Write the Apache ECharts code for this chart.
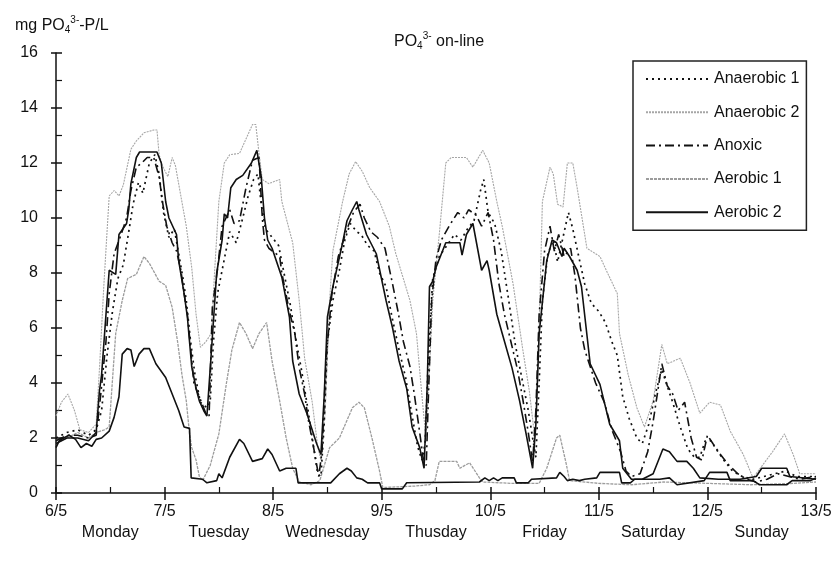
<!DOCTYPE html>
<html>
<head>
<meta charset="utf-8">
<script src="https://cdn.jsdelivr.net/npm/echarts@6/dist/echarts.min.js"></script>
<style>html,body{margin:0;padding:0;background:#fff}#c{width:836px;height:562px}</style>
</head>
<body>
<div id="c"></div>
<script>
// x = days since 6/5 00:00, y = mg PO4-P/L
const dateLabels = ['6/5','7/5','8/5','9/5','10/5','11/5','12/5','13/5'];
const dayNames = ['Monday','Tuesday','Wednesday','Thusday','Friday','Saturday','Sunday'];
const yTicks = [0,2,4,6,8,10,12,14,16];

const anaerobic2 = [[0,2.8],[0.05,3.3],[0.11,3.6],[0.17,3.0],[0.22,2.3],[0.3,2.2],[0.37,2.5],[0.4,4.5],[0.44,7.5],[0.47,9.5],[0.49,10.8],[0.535,11.0],[0.58,10.8],[0.62,11.2],[0.69,12.5],[0.74,12.8],[0.81,13.1],[0.9,13.2],[0.93,13.2],[0.95,12.3],[0.98,11.9],[1.03,11.5],[1.07,12.2],[1.1,11.9],[1.2,9.7],[1.25,8.2],[1.29,6.5],[1.33,5.3],[1.38,5.5],[1.43,5.8],[1.46,8.0],[1.5,10.6],[1.55,12.0],[1.6,12.3],[1.69,12.35],[1.73,12.7],[1.81,13.4],[1.84,13.4],[1.87,12.35],[1.9,11.4],[1.96,11.25],[2.06,11.4],[2.08,10.6],[2.18,9.1],[2.24,7.0],[2.29,4.9],[2.36,3.3],[2.41,1.7],[2.44,1.2],[2.48,3.0],[2.52,7.0],[2.55,8.8],[2.64,10.6],[2.7,11.6],[2.76,12.05],[2.82,11.7],[2.89,11.1],[2.98,10.6],[3.07,9.7],[3.13,8.7],[3.26,7.0],[3.32,5.8],[3.36,4.0],[3.39,2.7],[3.41,2.1],[3.44,4.5],[3.47,7.0],[3.53,9.4],[3.59,12.0],[3.64,12.2],[3.78,12.2],[3.84,11.85],[3.93,12.46],[3.99,12.0],[4.06,10.6],[4.11,9.7],[4.21,7.6],[4.3,5.2],[4.36,3.7],[4.41,2.0],[4.43,3.5],[4.46,7.5],[4.48,10.6],[4.55,11.85],[4.58,11.6],[4.62,10.5],[4.67,10.4],[4.71,12.0],[4.76,12.0],[4.8,11.1],[4.89,8.9],[5.01,8.6],[5.08,8.0],[5.17,7.25],[5.19,5.8],[5.27,4.3],[5.35,3.1],[5.42,2.4],[5.5,3.35],[5.58,5.4],[5.63,4.7],[5.75,4.9],[5.84,4.0],[5.93,2.9],[6.02,3.3],[6.12,3.2],[6.21,2.25],[6.33,1.4],[6.42,0.55],[6.6,1.5],[6.71,2.15],[6.79,1.4],[6.85,0.7],[7.0,0.7]];

const aerobic1 = [[0,1.8],[0.1,2.0],[0.2,2.2],[0.3,2.0],[0.37,2.2],[0.45,2.3],[0.49,2.4],[0.55,5.8],[0.61,7.0],[0.66,7.8],[0.74,7.95],[0.81,8.6],[0.86,8.35],[0.95,7.7],[1.01,7.55],[1.07,6.75],[1.12,5.5],[1.16,4.3],[1.2,3.35],[1.23,2.15],[1.25,1.65],[1.29,1.2],[1.32,0.6],[1.35,0.45],[1.42,1.0],[1.5,2.15],[1.57,4.0],[1.62,5.2],[1.69,6.2],[1.75,5.8],[1.81,5.25],[1.87,5.8],[1.94,6.2],[1.99,4.8],[2.06,3.35],[2.12,2.0],[2.18,0.9],[2.24,0.4],[2.35,0.3],[2.43,0.45],[2.52,1.65],[2.61,2.0],[2.73,3.1],[2.79,3.3],[2.84,3.1],[2.91,2.0],[2.98,0.8],[3.01,0.2],[3.3,0.25],[3.44,0.3],[3.49,0.45],[3.53,1.15],[3.69,1.15],[3.72,0.9],[3.81,1.1],[3.9,0.55],[3.93,0.4],[4.2,0.35],[4.45,0.35],[4.52,0.9],[4.61,2.0],[4.64,2.1],[4.7,1.05],[4.73,0.45],[5.0,0.35],[5.3,0.3],[5.6,0.4],[6.0,0.35],[6.4,0.3],[6.8,0.35],[7.0,0.4]];

const aerobic2 = [[0,1.65],[0.03,1.9],[0.07,2.0],[0.12,2.1],[0.18,1.95],[0.23,1.65],[0.28,1.8],[0.33,1.7],[0.37,1.95],[0.42,2.0],[0.49,2.25],[0.535,2.75],[0.58,3.5],[0.61,5.05],[0.655,5.25],[0.69,5.2],[0.72,4.6],[0.765,5.05],[0.81,5.25],[0.86,5.25],[0.92,4.7],[1.01,4.2],[1.07,3.6],[1.13,3.0],[1.18,2.4],[1.23,2.35],[1.245,0.55],[1.35,0.5],[1.39,0.37],[1.48,0.45],[1.5,0.7],[1.53,0.55],[1.6,1.3],[1.69,1.95],[1.73,1.8],[1.81,1.15],[1.9,1.25],[1.95,1.6],[1.99,1.4],[2.06,0.8],[2.12,0.9],[2.21,0.9],[2.23,0.37],[2.53,0.37],[2.61,0.7],[2.68,0.9],[2.72,0.8],[2.77,0.55],[2.82,0.5],[2.87,0.37],[2.98,0.37],[3.0,0.15],[3.19,0.15],[3.23,0.37],[3.9,0.4],[3.95,0.55],[3.99,0.45],[4.03,0.55],[4.07,0.45],[4.11,0.55],[4.22,0.55],[4.24,0.37],[4.35,0.37],[4.38,0.5],[4.61,0.55],[4.64,0.75],[4.68,0.6],[4.71,0.45],[4.76,0.5],[4.82,0.45],[4.87,0.5],[4.98,0.55],[5.01,0.75],[5.19,0.75],[5.21,0.37],[5.29,0.37],[5.33,0.5],[5.56,0.5],[5.65,0.55],[5.72,0.3],[5.97,0.45],[6.02,0.75],[6.18,0.75],[6.21,0.45],[6.42,0.45],[6.48,0.3],[6.73,0.3],[6.78,0.45],[6.95,0.45],[7.0,0.55]];

// unlabelled solid black trace visible in the upper group of the reference
const upperSolid = [[0,1.8],[0.1,2.0],[0.2,2.0],[0.3,1.9],[0.37,2.2],[0.4,3.7],[0.42,4.3],[0.49,8.1],[0.55,7.95],[0.58,9.4],[0.65,9.8],[0.67,10.3],[0.69,11.25],[0.74,12.2],[0.77,12.4],[0.93,12.4],[0.97,12.0],[1.01,10.6],[1.04,10.0],[1.11,9.4],[1.13,8.45],[1.18,7.25],[1.21,6.4],[1.25,4.6],[1.29,3.8],[1.32,3.35],[1.36,3.0],[1.39,2.8],[1.42,4.5],[1.48,8.0],[1.53,9.2],[1.55,10.15],[1.58,10.0],[1.61,11.1],[1.66,11.4],[1.72,11.55],[1.8,12.0],[1.85,12.46],[1.89,11.5],[1.92,10.0],[1.95,9.2],[1.99,8.9],[2.08,7.85],[2.15,6.4],[2.18,4.8],[2.24,3.6],[2.31,2.9],[2.4,1.8],[2.44,1.4],[2.47,3.5],[2.5,6.4],[2.55,7.5],[2.64,9.1],[2.68,9.9],[2.73,10.3],[2.77,10.6],[2.79,10.3],[2.86,9.4],[2.95,8.7],[3.04,7.0],[3.1,6.0],[3.16,4.8],[3.23,3.8],[3.28,2.4],[3.35,1.65],[3.39,0.9],[3.42,4.0],[3.44,7.5],[3.47,7.7],[3.5,8.2],[3.59,9.1],[3.72,9.1],[3.74,8.65],[3.78,9.4],[3.84,9.8],[3.92,8.1],[3.97,8.45],[3.99,8.1],[4.06,6.5],[4.11,5.8],[4.2,4.55],[4.27,3.35],[4.33,2.15],[4.39,0.9],[4.42,2.5],[4.45,5.8],[4.52,8.45],[4.57,9.2],[4.61,9.1],[4.66,8.6],[4.68,8.9],[4.73,8.6],[4.8,8.1],[4.84,7.5],[4.92,4.7],[5.01,3.95],[5.1,2.5],[5.19,1.9],[5.22,0.9],[5.3,0.5],[5.4,0.5],[5.5,0.7],[5.59,1.6],[5.65,1.5],[5.72,1.15],[5.81,1.15],[5.87,0.9],[5.93,0.55],[6.1,0.5],[6.3,0.5],[6.45,0.6],[6.5,0.9],[6.73,0.9],[6.76,0.6],[7.0,0.5]];

const anoxic = [[0,1.9],[0.1,2.1],[0.2,2.1],[0.3,2.0],[0.37,2.1],[0.41,3.5],[0.46,5.5],[0.49,7.25],[0.535,8.7],[0.6,9.4],[0.65,10.0],[0.69,11.0],[0.74,11.85],[0.79,12.0],[0.84,12.2],[0.9,12.2],[0.95,11.5],[0.98,10.6],[1.02,9.7],[1.07,9.1],[1.11,8.8],[1.15,8.1],[1.18,7.25],[1.21,6.5],[1.27,4.0],[1.32,3.5],[1.38,2.9],[1.41,2.8],[1.44,6.75],[1.49,8.2],[1.53,9.7],[1.6,10.3],[1.64,9.8],[1.69,9.9],[1.75,11.1],[1.81,12.1],[1.87,12.2],[1.9,10.0],[1.92,9.2],[1.96,8.9],[2.06,8.6],[2.08,8.0],[2.15,6.6],[2.2,5.8],[2.24,4.55],[2.29,3.6],[2.32,2.75],[2.38,1.5],[2.42,0.6],[2.45,1.5],[2.49,5.0],[2.54,7.2],[2.6,8.6],[2.68,9.6],[2.74,10.2],[2.8,10.5],[2.84,10.0],[2.9,9.5],[2.96,9.3],[3.03,8.9],[3.1,7.6],[3.15,6.6],[3.2,5.5],[3.26,4.6],[3.3,3.6],[3.35,2.2],[3.38,1.3],[3.41,1.0],[3.43,3.5],[3.46,7.0],[3.5,8.5],[3.55,9.2],[3.62,9.7],[3.7,10.2],[3.76,10.0],[3.8,10.3],[3.87,10.1],[3.92,9.7],[3.98,10.2],[4.03,9.2],[4.08,7.6],[4.13,6.5],[4.19,5.5],[4.25,4.5],[4.3,3.4],[4.35,2.2],[4.39,1.1],[4.42,3.0],[4.45,6.5],[4.5,8.8],[4.55,9.7],[4.59,8.8],[4.63,9.4],[4.68,8.6],[4.74,8.9],[4.78,7.9],[4.83,6.0],[4.87,5.2],[4.92,4.6],[4.97,4.0],[5.05,3.3],[5.12,2.3],[5.2,1.5],[5.25,0.8],[5.3,0.6],[5.38,0.7],[5.45,1.5],[5.5,2.6],[5.55,3.9],[5.58,4.7],[5.63,3.9],[5.68,3.6],[5.73,3.0],[5.79,3.3],[5.85,2.0],[5.9,1.3],[5.95,1.2],[6.0,2.1],[6.05,1.8],[6.12,1.4],[6.2,1.0],[6.28,0.7],[6.36,0.5],[6.45,0.4],[6.55,0.5],[6.65,0.7],[6.75,0.6],[6.85,0.5],[7.0,0.6]];

const anaerobic1 = [[0,2.0],[0.1,2.2],[0.2,2.3],[0.3,2.1],[0.37,2.3],[0.42,3.0],[0.47,5.0],[0.52,6.6],[0.57,7.8],[0.62,8.3],[0.67,9.5],[0.71,10.5],[0.76,11.3],[0.8,10.9],[0.86,12.0],[0.91,12.3],[0.95,11.6],[0.99,10.2],[1.04,9.3],[1.09,9.6],[1.13,8.7],[1.17,7.8],[1.2,7.0],[1.24,5.5],[1.28,4.3],[1.33,3.3],[1.39,3.1],[1.42,3.3],[1.45,5.5],[1.49,7.3],[1.55,8.5],[1.6,9.5],[1.66,9.1],[1.72,10.0],[1.77,10.8],[1.82,11.4],[1.86,11.6],[1.89,10.5],[1.93,9.6],[1.99,9.3],[2.05,9.0],[2.1,8.0],[2.16,6.8],[2.2,5.8],[2.26,4.5],[2.31,3.3],[2.36,2.0],[2.41,0.7],[2.44,0.6],[2.47,2.5],[2.5,5.5],[2.55,7.0],[2.61,8.1],[2.66,9.2],[2.71,9.8],[2.77,9.5],[2.81,9.4],[2.87,9.0],[2.93,8.8],[2.98,8.0],[3.04,7.5],[3.1,6.3],[3.16,5.2],[3.22,4.2],[3.28,2.8],[3.33,1.7],[3.37,1.2],[3.4,1.8],[3.43,5.0],[3.47,7.8],[3.53,8.6],[3.6,9.0],[3.67,9.4],[3.73,9.2],[3.79,9.6],[3.85,9.9],[3.91,11.0],[3.94,11.4],[3.98,10.2],[4.04,9.8],[4.1,8.8],[4.17,7.0],[4.23,5.4],[4.29,4.2],[4.35,3.0],[4.39,2.0],[4.42,1.3],[4.45,4.0],[4.48,7.0],[4.53,8.7],[4.58,9.2],[4.62,8.4],[4.67,9.3],[4.72,10.2],[4.76,9.6],[4.82,8.5],[4.87,7.6],[4.93,6.9],[5.0,6.6],[5.06,6.2],[5.12,5.5],[5.17,5.0],[5.22,3.5],[5.28,2.7],[5.35,2.0],[5.4,1.8],[5.46,2.5],[5.52,3.6],[5.58,4.5],[5.62,4.0],[5.68,3.3],[5.75,2.4],[5.82,1.6],[5.88,1.3],[5.93,1.3],[5.98,1.9],[6.03,1.9],[6.08,1.6],[6.15,1.2],[6.23,0.8],[6.32,0.6],[6.42,0.5],[6.52,0.6],[6.62,0.7],[6.72,0.8],[6.82,0.6],[7.0,0.6]];

const FONT = '"Liberation Sans", Arial, sans-serif';
const FS = 16;
const chart = echarts.init(document.getElementById('c'), null, {renderer: 'canvas'});
const rich = {
  n: {fontSize: FS, fontWeight: 'normal', fontFamily: FONT, color: '#111', lineHeight: 24, verticalAlign: 'middle'},
  sub: {fontSize: 10, fontWeight: 'normal', fontFamily: FONT, color: '#111', lineHeight: 10, verticalAlign: 'bottom', padding: [0,0,3,0]},
  sup: {fontSize: 10, fontWeight: 'normal', fontFamily: FONT, color: '#111', lineHeight: 10, verticalAlign: 'top', padding: [1,0,0,0]}
};
function lineSeries(name, data, color, width, type, z) {
  return {name, type: 'line', data, symbol: 'none', showSymbol: false, smooth: false,
    xAxisIndex: 0, yAxisIndex: 0, z, animation: false,
    lineStyle: {color, width, type}, itemStyle: {color}};
}
const axisColor = '#111';
chart.setOption({
  animation: false,
  backgroundColor: '#fff',
  title: [
    {text: '{n|mg PO}{sub|4}{sup|3-}{n|-P/L}', left: 10, top: 9, textStyle: {fontWeight: 'normal', rich}},
    {text: '{n|PO}{sub|4}{sup|3-}{n| on-line}', left: 389, top: 25, textStyle: {fontWeight: 'normal', rich}}
  ],
  legend: {
    data: ['Anaerobic 1','Anaerobic 2','Anoxic','Aerobic 1','Aerobic 2'],
    orient: 'vertical', left: 633, top: 61,
    itemWidth: 62, itemHeight: 14, itemGap: 17.3,
    padding: [10, 7, 10, 12],
    borderColor: '#222', borderWidth: 1.5, backgroundColor: '#fff',
    selectedMode: false,
    itemStyle: {color: 'rgba(0,0,0,0)', borderColor: 'rgba(0,0,0,0)', borderWidth: 0, opacity: 0},
    textStyle: {fontSize: FS, fontFamily: FONT, color: '#111', padding: [0,0,0,1]}
  },
  grid: {left: 56, right: 20, top: 53, bottom: 69, containLabel: false},
  xAxis: [
    {type: 'value', min: 0, max: 7, interval: 1, position: 'bottom',
      axisLine: {show: true, onZero: false, lineStyle: {color: axisColor, width: 1.5}},
      axisTick: {show: true, inside: false, length: 7, lineStyle: {color: axisColor, width: 1.5}},
      axisLabel: {margin: 11, fontSize: FS, fontFamily: FONT, color: '#111', formatter: v => dateLabels[Math.round(v)]},
      splitLine: {show: false}},
    {type: 'value', min: 0, max: 7, interval: 1, position: 'bottom',
      axisLine: {show: false, onZero: false},
      axisTick: {show: true, inside: true, length: 6, lineStyle: {color: axisColor, width: 1.5}},
      minorTick: {show: true, splitNumber: 2, length: 6, lineStyle: {color: axisColor, width: 1.2}},
      axisLabel: {show: false}, splitLine: {show: false}},
    {type: 'category', data: dayNames, boundaryGap: true, position: 'bottom', offset: 25,
      axisLine: {show: false}, axisTick: {show: false},
      axisLabel: {margin: 7, fontSize: FS, fontFamily: FONT, color: '#111', interval: 0},
      splitLine: {show: false}}
  ],
  yAxis: [
    {type: 'value', min: 0, max: 16, interval: 2, position: 'left',
      axisLine: {show: true, onZero: false, lineStyle: {color: axisColor, width: 1.5}},
      axisTick: {show: true, inside: false, length: 5, lineStyle: {color: axisColor, width: 1.5}},
      axisLabel: {margin: 18, fontSize: FS, fontFamily: FONT, color: '#111',
        formatter: v => String(yTicks[Math.round(v / 2)])},
      splitLine: {show: false}},
    {type: 'value', min: 0, max: 16, interval: 2, position: 'left',
      axisLine: {show: false, onZero: false},
      axisTick: {show: true, inside: true, length: 6, lineStyle: {color: axisColor, width: 1.5}},
      minorTick: {show: true, splitNumber: 2, length: 6, lineStyle: {color: axisColor, width: 1.2}},
      axisLabel: {show: false}, splitLine: {show: false}}
  ],
  series: [
    lineSeries('Anaerobic 2', anaerobic2, '#a6a6a6', 1.1, [2, 1], 1),
    lineSeries('Aerobic 1', aerobic1, '#9c9c9c', 1.3, [3, 1], 2),
    lineSeries('Aerobic 2', aerobic2, '#111', 1.6, 'solid', 3),
    Object.assign(lineSeries('upper', upperSolid, '#111', 1.6, 'solid', 4), {legendHoverLink: false}),
    lineSeries('Anoxic', anoxic, '#111', 1.6, [9, 4, 2, 4], 5),
    lineSeries('Anaerobic 1', anaerobic1, '#111', 1.7, [2, 4], 6)
  ]
});
</script>
</body>
</html>
